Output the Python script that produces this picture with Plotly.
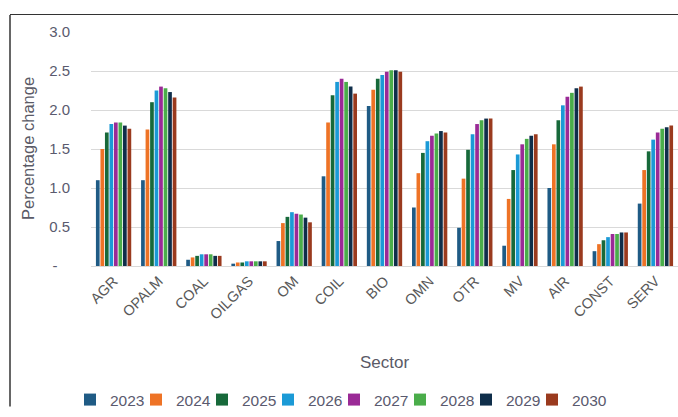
import plotly.graph_objects as go

sectors = ["AGR", "OPALM", "COAL", "OILGAS", "OM", "COIL", "BIO", "OMN", "OTR", "MV", "AIR", "CONST", "SERV"]
years = ["2023", "2024", "2025", "2026", "2027", "2028", "2029", "2030"]

v2023 = [1.10, 1.10, 0.08, 0.03, 0.32, 1.15, 2.05, 0.75, 0.49, 0.26, 1.00, 0.19, 0.80]
v2024 = [1.50, 1.75, 0.11, 0.045, 0.55, 1.84, 2.26, 1.19, 1.12, 0.86, 1.56, 0.28, 1.23]
v2025 = [1.71, 2.10, 0.13, 0.045, 0.63, 2.19, 2.40, 1.45, 1.49, 1.23, 1.87, 0.33, 1.47]
v2026 = [1.82, 2.25, 0.15, 0.06, 0.69, 2.36, 2.45, 1.60, 1.69, 1.43, 2.06, 0.37, 1.62]
v2027 = [1.84, 2.30, 0.15, 0.06, 0.67, 2.40, 2.49, 1.67, 1.82, 1.56, 2.17, 0.41, 1.71]
v2028 = [1.84, 2.28, 0.15, 0.06, 0.66, 2.36, 2.51, 1.70, 1.87, 1.63, 2.22, 0.41, 1.76]
v2029 = [1.80, 2.23, 0.13, 0.06, 0.62, 2.30, 2.51, 1.73, 1.89, 1.67, 2.28, 0.43, 1.78]
v2030 = [1.76, 2.16, 0.13, 0.06, 0.56, 2.21, 2.49, 1.71, 1.89, 1.69, 2.30, 0.43, 1.80]

series = [v2023, v2024, v2025, v2026, v2027, v2028, v2029, v2030]
colors = ["#1f5b85", "#ee7326", "#17693a", "#1b9ad6", "#9a2a96", "#4aad4a", "#0f2e4a", "#9a3a1e"]

ytick_vals = [0, 0.5, 1.0, 1.5, 2.0, 2.5, 3.0]
ytick_text = ["-\u00a0\u00a0\u00a0", "0.5", "1.0", "1.5", "2.0", "2.5", "3.0"]

W, H = 678, 417
L, R, T, B = 91, 0, 32, 145
pw, ph = W - L - R, H - T - B

def px_x(p):
    return (p - L) / pw

def px_y(p):
    return (H - B - p) / ph

fig = go.Figure()
for name, vals, c in zip(years, series, colors):
    fig.add_trace(go.Bar(x=sectors, y=vals, name=name, marker=dict(color=c, line=dict(width=0))))

# invisible legend entry (no visible point) so the last legend label is not clipped
fig.add_trace(go.Scatter(x=[sectors[0]], y=[None], mode="markers", name="\u00a0\u00a0\u00a0",
                         showlegend=True, marker=dict(color="rgba(0,0,0,0)", size=1), hoverinfo="skip"))

font_fam = "Liberation Sans, Arial, sans-serif"
fig.update_layout(
    width=W, height=H,
    margin=dict(l=L, r=R, t=T, b=B),
    paper_bgcolor="white", plot_bgcolor="white",
    barmode="group", bargap=0.2, bargroupgap=0.18,
    font=dict(family=font_fam, color="#595959"),
    showlegend=True,
    legend=dict(orientation="h", x=px_x(70), xanchor="left", y=px_y(410), yanchor="middle",
                font=dict(size=15.5, color="#5a5a6e"), entrywidth=21, entrywidthmode="pixels",
                bgcolor="rgba(0,0,0,0)"),
    xaxis=dict(tickangle=-45, tickfont=dict(size=14.5, color="#595959"), showgrid=False,
               range=[-0.5, len(sectors) - 0.5], autorange=False,
               showline=True, linecolor="#d9d9d9", linewidth=1, ticks="", fixedrange=True),
    yaxis=dict(range=[0, 3.0], tickvals=ytick_vals, ticktext=ytick_text,
               tickfont=dict(size=15, color="#5a5a6e"), showgrid=True, gridcolor="#d9d9d9",
               gridwidth=1, zeroline=False, showline=False, ticks="", ticklabelstandoff=20),
    annotations=[
        dict(text="Percentage change", x=px_x(28), y=0.5, xref="paper", yref="paper",
             textangle=-90, showarrow=False, xanchor="center", yanchor="middle",
             font=dict(size=16.5, color="#5a5a66")),
        dict(text="Sector", x=0.5, y=px_y(371), xref="paper", yref="paper",
             showarrow=False, xanchor="center", yanchor="middle",
             font=dict(size=17, color="#5a5a66")),
    ],
    shapes=[
        dict(type="line", xref="paper", yref="paper", x0=px_x(10), x1=px_x(10), y0=px_y(14.5), y1=px_y(416),
             line=dict(color="#333333", width=1.5), layer="above"),
    ],
)

frame_js = (
    "document.body.style.margin='0';document.body.style.overflow='hidden';"
    "var f=document.createElement('div');"
    "f.style.cssText='position:absolute;left:10px;top:14px;width:680px;height:0;"
    "border-top:1.5px solid #333333;pointer-events:none;z-index:1000;';"
    "document.body.appendChild(f);"
)

fig.write_html("out.html", config={"displayModeBar": False}, post_script=frame_js)
